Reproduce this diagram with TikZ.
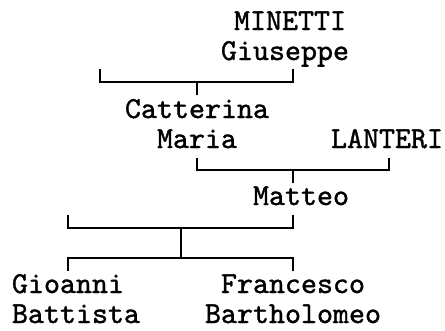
\documentclass[tikz,border=0pt]{standalone}
\usepackage{fontspec}
\newfontfamily\nmfont{lmmono10-regular.otf}[FakeBold=1.2]
\tikzset{
  nm/.style={anchor=base west, inner sep=0pt, outer sep=0pt, font=\nmfont\fontsize{30.48}{29}\selectfont},
  ln/.style={line width=1.8pt, line cap=butt}
}
\begin{document}
\begin{tikzpicture}[x=1pt, y=-1pt]
\useasboundingbox (0,0) rectangle (445,330);
% names
\node[nm] (minetti) at (234,30) {MINETTI};
\node[nm] (giuseppe) at (221,60) {Giuseppe};
\node[nm] (catterina) at (125,118) {Catterina};
\node[nm] (maria) at (157,148) {Maria};
\node[nm] (lanteri) at (331,148) {LANTERI};
\node[nm] (matteo) at (253,205) {Matteo};
\node[nm] (gioanni) at (12,293) {Gioanni};
\node[nm] (battista) at (12,323) {Battista};
\node[nm] (francesco) at (221,293) {Francesco};
\node[nm] (bartholomeo) at (205,323) {Bartholomeo};
% bracket coordinates
\coordinate (a1) at (100,69);
\coordinate (a2) at (293,69);
\coordinate (am) at (197,82);
\coordinate (at) at (197,95);
\coordinate (b1) at (197,158);
\coordinate (b2) at (389,158);
\coordinate (bm) at (293,170);
\coordinate (bt) at (293,183);
\coordinate (c1) at (68,215);
\coordinate (c2) at (293,215);
\coordinate (cm) at (181,228);
\coordinate (dm) at (181,258);
\coordinate (d1) at (68,271);
\coordinate (d2) at (293,271);
% connectors
\draw[ln] (a1) |- (am) -| (a2);
\draw[ln] (am) -- (at);
\draw[ln] (b1) |- (bm) -| (b2);
\draw[ln] (bm) -- (bt);
\draw[ln] (c1) |- (cm) -| (c2);
\draw[ln] (cm) -- (dm);
\draw[ln] (d1) |- (dm) -| (d2);
\end{tikzpicture}
\end{document}
